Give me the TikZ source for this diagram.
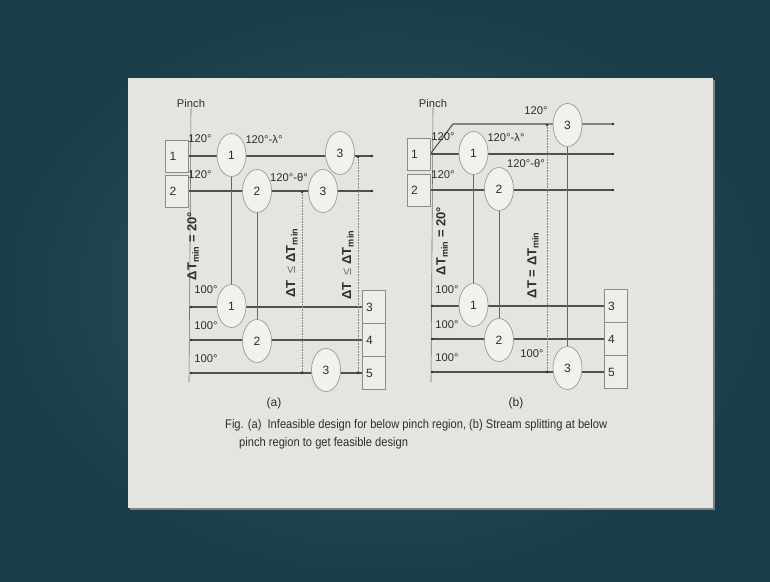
\documentclass[tikz,border=0pt]{standalone}
\usepackage{fontspec}
\setmainfont{Liberation Sans}
\newfontfamily\capfont{Liberation Sans}[FakeStretch=0.89]
\usetikzlibrary{shapes.geometric}
\definecolor{bgin}{HTML}{2F5E63}
\definecolor{bgout}{HTML}{1B3C49}
\definecolor{slide}{HTML}{E4E4E1}
\definecolor{ink}{HTML}{2E2E2E}
\definecolor{lineC}{HTML}{505050}
\definecolor{tieC}{HTML}{666666}
\definecolor{efill}{HTML}{F1F1EE}
\definecolor{edraw}{HTML}{9A9A9A}
\definecolor{boxf}{HTML}{EDEDEA}
\definecolor{boxd}{HTML}{8C8C8C}
\pgfdeclarelayer{back}
\pgfdeclarelayer{lines}
\pgfsetlayers{back,lines,main}
\begin{document}
\begin{tikzpicture}[x=1pt,y=-1pt,
  hxe/.style={ellipse, draw=edraw, fill=efill, line width=0.7pt, minimum width=29pt, minimum height=43pt, inner sep=0pt, font=\fontsize{12}{12}\selectfont, text=ink},
  sbox/.style={rectangle, draw=boxd, fill=boxf, line width=0.6pt, minimum height=32pt, inner xsep=4pt, text width=15pt, align=left, font=\fontsize{12}{12}\selectfont, text=ink},
  cbox/.style={sbox, minimum height=33pt},
  strm/.style={draw=lineC, line width=1.1pt},
  tie/.style={draw=tieC, line width=0.6pt},
  pinchl/.style={draw=black!55, line width=0.6pt},
  dotl/.style={draw=black!50, line width=0.6pt, densely dotted},
  pdot/.style={fill=ink},
  lbl/.style={font=\fontsize{11.2}{11.2}\selectfont, text=ink, inner sep=0pt},
  rlbl/.style={font=\bfseries\fontsize{13}{13}\selectfont, rotate=90, text=ink, inner sep=0pt},
  plbl/.style={font=\fontsize{11.2}{11.2}\selectfont, text=ink, inner sep=0pt},
  sublbl/.style={font=\fontsize{12}{12}\selectfont, text=ink, inner sep=0pt}
]
\useasboundingbox (0,0) rectangle (770,581);
\begin{pgfonlayer}{back}
  \shade[inner color=bgin, outer color=bgout] (0,0) rectangle (770,581);
  \fill[black!50] (129.5,79.5) rectangle (714.5,509.5);
  \fill[slide] (128,78) rectangle (713,508);
\end{pgfonlayer}

% ================= (a) =================
\node[plbl] (pina) at (191,103) {Pinch};
\node[sbox] (h1a) at (177,156) {1};
\node[sbox] (h2a) at (177,191) {2};
\node[cbox] (c3a) at (373.5,307) {3};
\node[cbox] (c4a) at (373.5,340) {4};
\node[cbox] (c5a) at (373.5,373) {5};

\node[hxe] (a1t) at (231.5,155) {1};
\node[hxe] (a2t) at (257,191) {2};
\node[hxe] (a3u) at (340,153) {3};
\node[hxe] (a3v) at (323,191) {3};
\node[hxe] (a1b) at (231.5,306) {1};
\node[hxe] (a2b) at (257,341) {2};
\node[hxe] (a3b) at (326,370) {3};

\coordinate (pa1) at (189,382);
\coordinate (e1a) at (372,156);
\coordinate (e2a) at (372,191);
\coordinate (w3a) at (191,307);
\coordinate (w4a) at (191,340);
\coordinate (w5a) at (191,373);
\coordinate (dA1t) at (358,157);
\coordinate (dA1b) at (358,373);
\coordinate (dA2t) at (302,192);
\coordinate (dA2b) at (302,373);

\begin{pgfonlayer}{lines}
  \draw[pinchl] (pina.south) -- (pa1);
  \draw[strm] (h1a.east) -- (e1a);
  \draw[strm] (h2a.east) -- (e2a);
  \draw[strm] (c3a.west) -- (w3a);
  \draw[strm] (c4a.west) -- (w4a);
  \draw[strm] (c5a.west) -- (w5a);
  \draw[tie] (a1t.south) -- (a1b.north);
  \draw[tie] (a2t.south) -- (a2b.north);
  \draw[dotl] (dA1t) -- (dA1b);
  \draw[dotl] (dA2t) -- (dA2b);
\end{pgfonlayer}
\foreach \p in {e1a,e2a,w3a,w4a,w5a,dA1t,dA1b,dA2t,dA2b}
  \fill[pdot] (\p) circle[radius=1.4pt];

\node[lbl] (ta1) at (200,139) {120°};
\node[lbl] (ta2) at (200,175) {120°};
\node[lbl] (ta3) at (264,139) {120°-λ°};
\node[lbl] (ta4) at (289,177) {120°-θ°};
\node[lbl] (ta5) at (206,290) {100°};
\node[lbl] (ta6) at (206,326) {100°};
\node[lbl] (ta7) at (206,359) {100°};
\node[rlbl] (ra1) at (193,246) {ΔT\textsubscript{min} = 20°};
\node[rlbl] (ra2) at (292,263) {ΔT \ {\mdseries\color{black!55}≤}\  ΔT\textsubscript{min}};
\node[rlbl] (ra3) at (348,265) {ΔT \ {\mdseries\color{black!55}≤}\  ΔT\textsubscript{min}};
\node[sublbl] (suba) at (274,403) {(a)};

% ================= (b) =================
\node[plbl] (pinb) at (433,103) {Pinch};
\node[sbox] (h1b) at (418.5,154) {1};
\node[sbox] (h2b) at (418.5,190) {2};
\node[cbox] (c3b) at (615.5,306) {3};
\node[cbox] (c4b) at (615.5,339) {4};
\node[cbox] (c5b) at (615.5,372) {5};

\node[hxe] (b1t) at (473.5,153) {1};
\node[hxe] (b2t) at (499,189) {2};
\node[hxe] (b3t) at (567.5,125) {3};
\node[hxe] (b1b) at (473.5,305) {1};
\node[hxe] (b2b) at (499,340) {2};
\node[hxe] (b3b) at (567.5,368) {3};

\coordinate (pb1) at (431,382);
\coordinate (s1) at (453,124);
\coordinate (e0b) at (613,124);
\coordinate (e1b) at (613,154);
\coordinate (e2b) at (613,190);
\coordinate (w3b) at (432,306);
\coordinate (w4b) at (432,339);
\coordinate (w5b) at (432,372);
\coordinate (dBt) at (547,125);
\coordinate (dBb) at (547,372);

\begin{pgfonlayer}{lines}
  \draw[pinchl] (pinb.south) -- (pb1);
  \draw[strm] (h1b.east) -- (s1) -- (e0b);
  \draw[strm] (h1b.east) -- (e1b);
  \draw[strm] (h2b.east) -- (e2b);
  \draw[strm] (c3b.west) -- (w3b);
  \draw[strm] (c4b.west) -- (w4b);
  \draw[strm] (c5b.west) -- (w5b);
  \draw[tie] (b1t.south) -- (b1b.north);
  \draw[tie] (b2t.south) -- (b2b.north);
  \draw[tie] (b3t.south) -- (b3b.north);
  \draw[dotl] (dBt) -- (dBb);
\end{pgfonlayer}
\foreach \p in {e0b,e1b,e2b,w3b,w4b,w5b,dBt,dBb}
  \fill[pdot] (\p) circle[radius=1.4pt];

\node[lbl] (tb0) at (536,111) {120°};
\node[lbl] (tb1) at (443,137) {120°};
\node[lbl] (tb2) at (443,175) {120°};
\node[lbl] (tb3) at (506,137) {120°-λ°};
\node[lbl] (tb4) at (526,163) {120°-θ°};
\node[lbl] (tb5) at (447,290) {100°};
\node[lbl] (tb6) at (447,325) {100°};
\node[lbl] (tb7) at (447,358) {100°};
\node[lbl] (tb8) at (532,354) {100°};
\node[rlbl] (rb1) at (442,241) {ΔT\textsubscript{min} = 20°};
\node[rlbl] (rb2) at (533,265) {ΔT = ΔT\textsubscript{min}};
\node[sublbl] (subb) at (516,403) {(b)};

% ================= caption =================
\node[font=\capfont\fontsize{12.5}{18}\selectfont, text=ink, align=left, anchor=north west, inner sep=0pt] (cap) at (225,419)
  {Fig. (a)\ \ Infeasible design for below pinch region, (b) Stream splitting at below\\\hspace*{14pt}pinch region to get feasible design};
\end{tikzpicture}
\end{document}
